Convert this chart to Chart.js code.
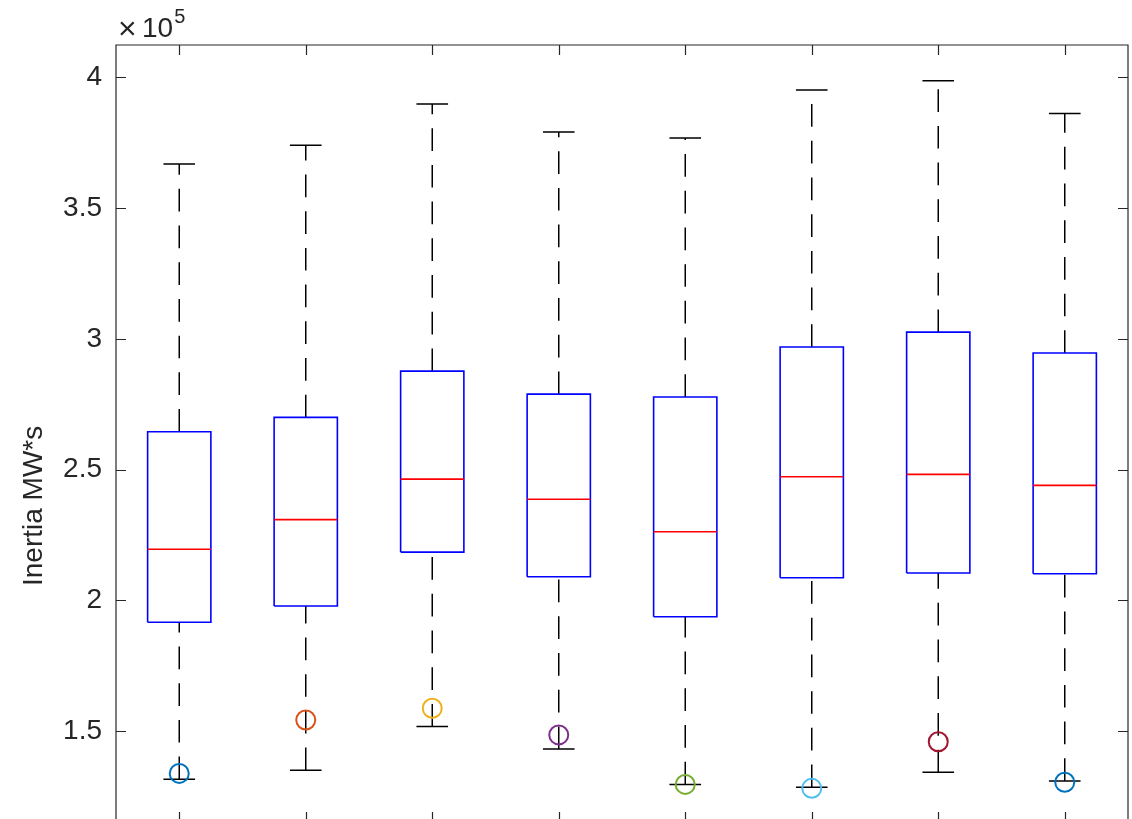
<!DOCTYPE html>
<html><head><meta charset="utf-8">
<script src="https://cdn.jsdelivr.net/npm/chart.js@4.4.1/dist/chart.umd.min.js"></script>
<style>
html,body{margin:0;padding:0;background:#fff;overflow:hidden;width:1132px;height:819px}
#c{display:block;width:1132px;height:819px}
</style></head>
<body><canvas id="c" width="1132" height="819" style="width:1132px;height:819px"></canvas>
<script>
// ---- data (values in MW*s) ----
const categories    = [1, 2, 3, 4, 5, 6, 7, 8];
const upperWhisker  = [366900, 374000, 389800, 379100, 376800, 395100, 398700, 386200];
const q3Values      = [264500, 270000, 287700, 278900, 277800, 296900, 302600, 294600];
const medianValues  = [219600, 230900, 246400, 238700, 226300, 247300, 248200, 244000];
const q1Values      = [191700, 197900, 218500, 209100, 193800, 208700, 210500, 210200];
const lowerWhisker  = [131650, 135100, 151800, 143200, 129700, 128600, 134300, 131000];
const markerValues  = [133900, 154300, 158800, 148600, 129700, 128200, 146000, 130500];
const markerColors  = ['#0072BD', '#D95319', '#EDB120', '#7E2F8E', '#77AC30', '#4DBEEE', '#A2142F', '#0072BD'];
const yTickValues   = [150000, 200000, 250000, 300000, 350000, 400000];
const yTickLabels   = ['1.5', '2', '2.5', '3', '3.5', '4'];
const yLabel = 'Inertia MW*s';
const exponentTimes = '\u00D7';
const exponentBase = '10';
const exponentPower = '5';

const FONT = "'Liberation Sans', Arial, Helvetica, sans-serif";
const AX = '#262626';
const BOX_HALF = 0.25, CAP_HALF = 0.125;

function build(fn) {
  const pts = [];
  categories.forEach((c, i) => {
    fn(c, i).forEach(seg => { seg.forEach(p => pts.push(p)); pts.push({x: c, y: null}); });
  });
  return pts;
}

const boxPts = build((c, i) => [[
  {x: c - BOX_HALF, y: q1Values[i]}, {x: c + BOX_HALF, y: q1Values[i]},
  {x: c + BOX_HALF, y: q3Values[i]}, {x: c - BOX_HALF, y: q3Values[i]},
  {x: c - BOX_HALF, y: q1Values[i]}
]]);
const medPts = build((c, i) => [[{x: c - BOX_HALF, y: medianValues[i]}, {x: c + BOX_HALF, y: medianValues[i]}]]);
const upperPts = build((c, i) => [[{x: c, y: q3Values[i]}, {x: c, y: upperWhisker[i]}]]);
const lowerPts = build((c, i) => [[{x: c, y: lowerWhisker[i]}, {x: c, y: q1Values[i]}]]);
const capPts = build((c, i) => [
  [{x: c - CAP_HALF, y: upperWhisker[i]}, {x: c + CAP_HALF, y: upperWhisker[i]}],
  [{x: c - CAP_HALF, y: lowerWhisker[i]}, {x: c + CAP_HALF, y: lowerWhisker[i]}]
]);
const markerPts = categories.map((c, i) => ({x: c, y: markerValues[i]}));

const lineBase = {pointRadius: 0, pointHoverRadius: 0, tension: 0, fill: false, spanGaps: false,
  borderJoinStyle: 'miter', borderCapStyle: 'butt'};

const framePlugin = {
  id: 'frame',
  afterDatasetsDraw(chart) {
    const {ctx, chartArea: a, scales} = chart;
    ctx.save();
    ctx.strokeStyle = AX; ctx.lineWidth = 1.2; ctx.setLineDash([]);
    ctx.beginPath();
    ctx.moveTo(a.left, a.bottom); ctx.lineTo(a.left, a.top); ctx.lineTo(a.right, a.top); ctx.lineTo(a.right, a.bottom);
    ctx.stroke();
    const tl = 10;
    ctx.beginPath();
    yTickValues.forEach(v => {
      const y = Math.round(scales.y.getPixelForValue(v)) + 0.5;
      ctx.moveTo(a.left, y); ctx.lineTo(a.left + tl, y);
      ctx.moveTo(a.right, y); ctx.lineTo(a.right - tl, y);
    });
    categories.forEach(c => {
      const x = Math.round(scales.x.getPixelForValue(c)) + 0.5;
      ctx.moveTo(x, a.top); ctx.lineTo(x, a.top + tl);
      ctx.moveTo(x, a.bottom); ctx.lineTo(x, a.bottom - 7);
    });
    ctx.stroke();
    // exponent label  x10^5
    ctx.fillStyle = AX;
    ctx.textAlign = 'left'; ctx.textBaseline = 'alphabetic';
    ctx.font = '32px ' + FONT;
    ctx.fillText(exponentTimes, a.left + 2, a.top - 6);
    ctx.font = '28px ' + FONT;
    ctx.fillText(exponentBase, a.left + 26, a.top - 8);
    const w = ctx.measureText(exponentBase).width;
    ctx.font = '20px ' + FONT;
    ctx.fillText(exponentPower, a.left + 26 + w + 1, a.top - 22);
    ctx.restore();
  }
};

new Chart(document.getElementById('c'), {
  type: 'line',
  data: {
    datasets: [
      Object.assign({}, lineBase, {label: 'markers', data: markerPts, showLine: false,
        pointRadius: 9.5, pointHoverRadius: 9.5, pointBorderWidth: 2,
        pointBackgroundColor: 'rgba(0,0,0,0)', pointBorderColor: markerColors}),
      Object.assign({}, lineBase, {label: 'median', data: medPts, borderColor: '#FF0000', borderWidth: 1.6}),
      Object.assign({}, lineBase, {label: 'box', data: boxPts, borderColor: '#0000FF', borderWidth: 1.6}),
      Object.assign({}, lineBase, {label: 'caps', data: capPts, borderColor: '#000000', borderWidth: 1.5}),
      Object.assign({}, lineBase, {label: 'upper', data: upperPts, borderColor: '#000000', borderWidth: 1.5, borderDash: [22.7, 14]}),
      Object.assign({}, lineBase, {label: 'lower', data: lowerPts, borderColor: '#000000', borderWidth: 1.5, borderDash: [22.7, 14]})
    ]
  },
  options: {
    responsive: false, maintainAspectRatio: false, animation: false, devicePixelRatio: 1,
    layout: {autoPadding: false, padding: {top: 45, right: 4, bottom: 0, left: 0}},
    plugins: {legend: {display: false}, tooltip: {enabled: false}, title: {display: false}},
    events: [],
    scales: {
      x: {type: 'linear', min: 0.5, max: 8.5, display: false},
      y: {
        type: 'linear', min: 116470, max: 412350,
        afterBuildTicks: s => { s.ticks = yTickValues.map(v => ({value: v})); },
        afterFit: s => { s.width = 116; s.paddingTop = 0; s.paddingBottom = 0; },
        ticks: {
          callback: v => { const k = yTickValues.indexOf(v); return k >= 0 ? yTickLabels[k] : ''; },
          font: {family: FONT, size: 28}, color: AX, padding: 14
        },
        grid: {display: false, drawTicks: false},
        border: {display: false},
        title: {display: true, text: yLabel + '\u0020'.repeat(19), color: AX,
          font: {family: FONT, size: 28}, padding: {top: 17, bottom: 0}}
      }
    }
  },
  plugins: [framePlugin]
});
</script>
</body></html>
